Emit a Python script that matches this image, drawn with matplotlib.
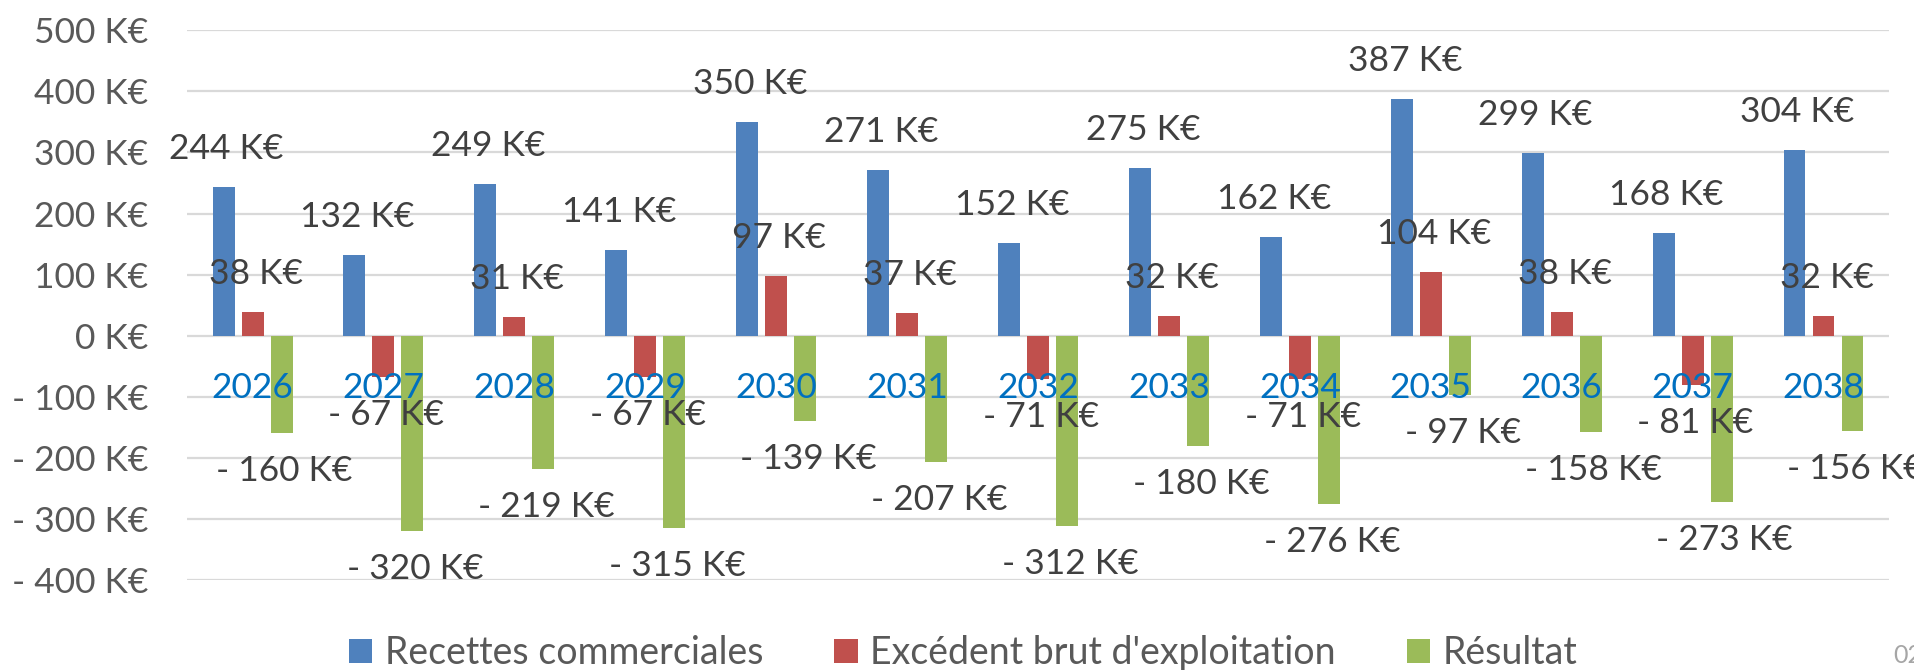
import matplotlib
matplotlib.use("Agg")
from matplotlib import pyplot as plt
import numpy as np

plt.rcParams['font.family'] = ['Lato', 'DejaVu Sans']

years = ['2026', '2027', '2028', '2029', '2030', '2031', '2032',
         '2033', '2034', '2035', '2036', '2037', '2038']
recettes = [244, 132, 249, 141, 350, 271, 152, 275, 162, 387, 299, 168, 304]
ebe = [38, -67, 31, -67, 97, 37, -71, 32, -71, 104, 38, -81, 32]
resultat = [-160, -320, -219, -315, -139, -207, -312, -180, -276, -97, -158, -273, -156]

series = [
    ("Recettes commerciales", recettes, '#4F81BD'),
    ("Excédent brut d'exploitation", ebe, '#C0504D'),
    ("Résultat", resultat, '#9BBB59'),
]


def keur(v):
    if v < 0:
        return "- %d K€" % abs(v)
    return "%d K€" % v


fig = plt.figure(figsize=(19.15, 6.7), dpi=100)
ax = fig.add_axes([0.0977, 0.1343, 0.8887, 0.8205])

x = np.arange(len(years))
w = 0.168
step = 0.2215

for k, (name, vals, col) in enumerate(series):
    pos = x + (k - 1) * step
    ax.bar(pos, vals, w, color=col, label=name, zorder=3)
    for px, v in zip(pos, vals):
        dy = 38 if v >= 0 else -38
        ax.annotate(keur(v), (px, v), xytext=(3, dy), textcoords='offset pixels',
                    ha='center', va='center', fontsize=25.5, color='#404040', zorder=5)

# years sit just under the zero line
for i, yr in enumerate(years):
    ax.annotate(yr, (i, 0), xytext=(0, -52), textcoords='offset pixels',
                ha='center', va='center', fontsize=25.5, color='#0070C0', zorder=4)

ax.set_xlim(-0.5, len(years) - 0.5)
ax.set_ylim(-400, 500)
ax.set_yticks(np.arange(-400, 501, 100))
ax.set_yticklabels([keur(t) for t in range(-400, 501, 100)])
ax.set_xticks([])
ax.tick_params(axis='y', length=0, pad=28, labelsize=25.5, labelcolor='#595959')
ax.grid(axis='y', color='#D9D9D9', linewidth=1.6, zorder=0)
for s in ax.spines.values():
    s.set_visible(False)

fig.legend(loc='center', bbox_to_anchor=(0.503, 0.0254), ncol=3, frameon=False,
           fontsize=27, labelcolor='#595959', handlelength=0.62, handleheight=0.62,
           handletextpad=0.33, columnspacing=1.9)

fig.text(0.9885, 0.005, "02", fontsize=18, color='#A6A6A6', ha='left', va='bottom')

fig.savefig("out.png", dpi=100)
